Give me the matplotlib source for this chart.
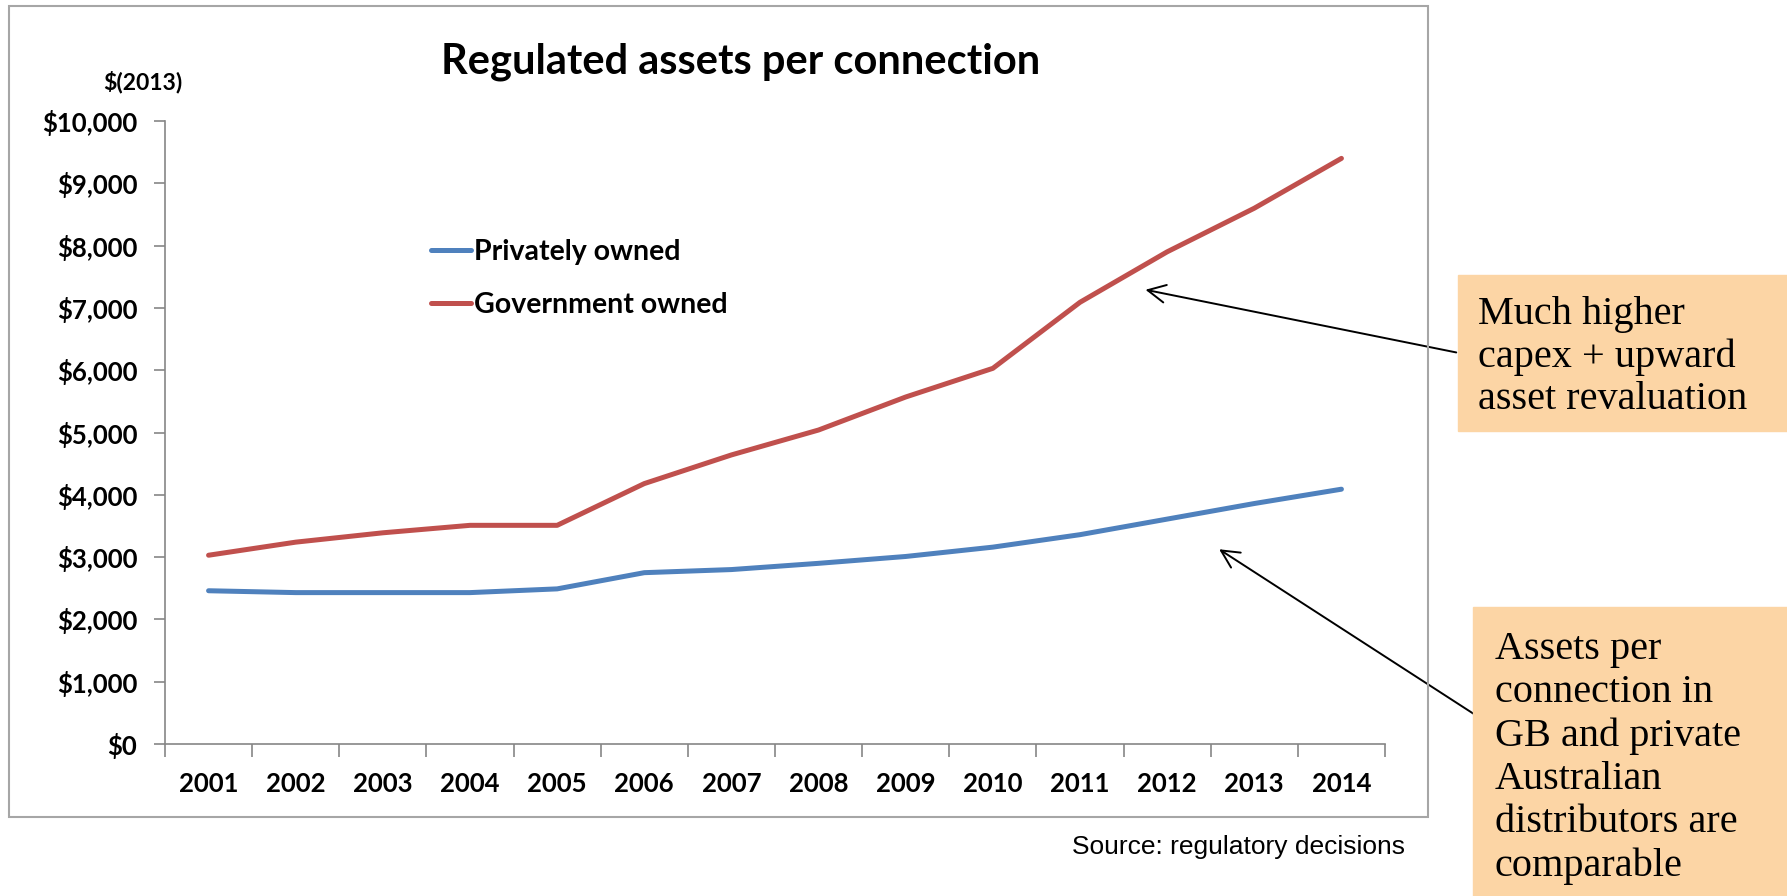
import matplotlib
matplotlib.use("Agg")
from matplotlib import pyplot as plt
from matplotlib.patches import Rectangle

years = ["2001", "2002", "2003", "2004", "2005", "2006", "2007",
         "2008", "2009", "2010", "2011", "2012", "2013", "2014"]
private = [2460, 2430, 2430, 2430, 2490, 2750, 2800, 2900, 3010, 3160, 3360, 3610, 3860, 4090]
government = [3030, 3240, 3390, 3510, 3510, 4180, 4640, 5040, 5570, 6030, 7090, 7900, 8600, 9400]
yticks = [0, 1000, 2000, 3000, 4000, 5000, 6000, 7000, 8000, 9000, 10000]

BLUE = "#4F81BD"
RED = "#C0504D"
PEACH = "#FCD5A5"
GREY = "#868686"
W, H = 1787, 896

plt.rcParams['font.family'] = ['Lato', 'DejaVu Sans']
fig = plt.figure(figsize=(W / 100, H / 100), dpi=100)

# outer chart frame
fig.patches.append(Rectangle((9 / W, 1 - 817 / H), (1428 - 9) / W, (817 - 6) / H,
                             transform=fig.transFigure, fill=False,
                             edgecolor="#A6A6A6", linewidth=1.5))

ax = fig.add_axes([165 / W, 1 - 744 / H, (1385 - 165) / W, (744 - 121) / H])
xs = [i + 0.5 for i in range(len(years))]
ax.plot(xs, private, color=BLUE, lw=3.6, label="Privately owned", solid_capstyle="round")
ax.plot(xs, government, color=RED, lw=3.6, label="Government owned", solid_capstyle="round")

ax.set_xlim(0, len(years))
ax.set_ylim(0, 10000)
ax.set_yticks(yticks)
ax.set_yticklabels(["${:,}".format(v) for v in yticks], fontsize=18.5, fontweight="bold")
ax.set_xticks(range(len(years) + 1))
ax.set_xticklabels([])
ax.set_xticks(xs, minor=True)
ax.set_xticklabels(years, minor=True, fontsize=18.5, fontweight="bold")
ax.tick_params(axis="x", which="major", length=9, color=GREY, width=1.2)
ax.tick_params(axis="x", which="minor", length=0, pad=20)
ax.tick_params(axis="y", length=8, color=GREY, width=1.2, pad=12)
for s in ["top", "right"]:
    ax.spines[s].set_visible(False)
for s in ["left", "bottom"]:
    ax.spines[s].set_color(GREY)
    ax.spines[s].set_linewidth(1.2)

ax.legend(loc="upper left", bbox_to_anchor=((420 - 165) / 1220, (744 - 228) / 623),
          frameon=False, prop={"weight": "bold", "size": 20.5}, handlelength=1.4,
          handletextpad=0.1, labelspacing=0.95, borderaxespad=0)

fig.text(741 / W, 1 - 62 / H, "Regulated assets per connection", ha="center", va="center",
         fontsize=30, fontweight="bold")
fig.text(143 / W, 1 - 82 / H, "$(2013)", ha="center", va="center", fontsize=16.5, fontweight="bold")
fig.text(1405 / W, 1 - 847 / H, "Source: regulatory decisions", ha="right", va="center",
         fontsize=19, family="Liberation Sans")

# annotation boxes
fig.patches.append(Rectangle((1458 / W, 1 - 431 / H), (W - 1458) / W, (431 - 275) / H,
                             transform=fig.transFigure, color=PEACH, zorder=0))
fig.patches.append(Rectangle((1473 / W, 0), (W - 1473) / W, (H - 607) / H,
                             transform=fig.transFigure, color=PEACH, zorder=0))
fig.text(1478 / W, 1 - 357 / H, "Much higher\ncapex + upward\nasset revaluation",
         ha="left", va="center", fontsize=29, family="Liberation Serif", linespacing=1.2)
fig.text(1495 / W, 1 - 758 / H,
         "Assets per\nconnection in\nGB and private\nAustralian\ndistributors are\ncomparable",
         ha="left", va="center", fontsize=29, family="Liberation Serif", linespacing=1.22)

ax.annotate("", xy=(11.22, 7300), xycoords="data", xytext=(1459 / W, 1 - 353 / H),
            textcoords="figure fraction", annotation_clip=False,
            arrowprops=dict(arrowstyle="->", color="black", lw=1.4, mutation_scale=32))
ax.annotate("", xy=(12.07, 3150), xycoords="data", xytext=(1477 / W, 1 - 716 / H),
            textcoords="figure fraction", annotation_clip=False,
            arrowprops=dict(arrowstyle="->", color="black", lw=1.4, mutation_scale=32))

fig.savefig("out.png", dpi=100)
